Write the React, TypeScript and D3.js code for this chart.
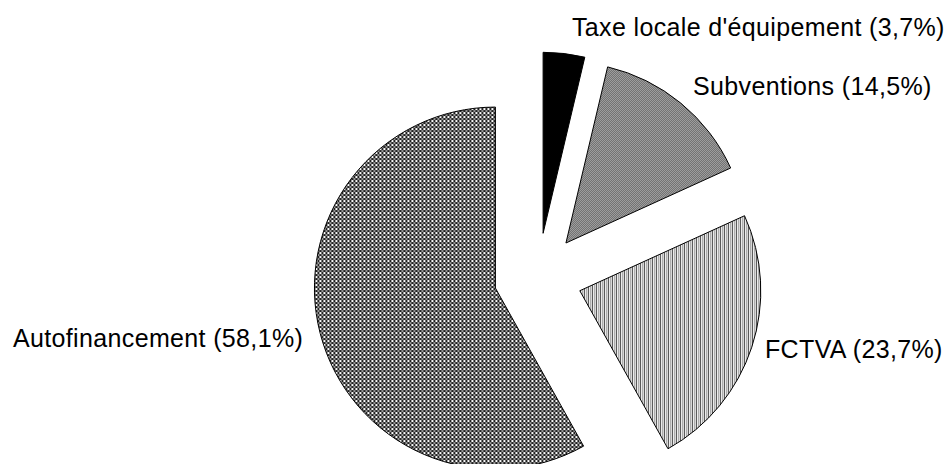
import React from "react";
import * as d3 from "d3";

const categories = [
  "Taxe locale d'équipement",
  "Subventions",
  "FCTVA",
  "Autofinancement",
];
const values = [3.7, 14.5, 23.7, 58.1];
const valueLabels = ["3,7%", "14,5%", "23,7%", "58,1%"];

const W = 950;
const H = 464;
const CX = 538;
const CY = 277;
const R = 181;
const EXPLODE = 44;
const FONT = 25;

const fills = ["#000", "url(#pSub)", "url(#pFct)", "url(#pAuto)"];
// label layout: [x, baseline y]
const labelPos: [number, number][] = [
  [572, 36],
  [693, 95],
  [765, 358],
  [13, 347],
];

export default function App() {
  const pie = d3
    .pie<number>()
    .sort(null)
    .value((d) => d)
    .startAngle(0)
    .endAngle(2 * Math.PI);
  const arcs = pie(values);
  const arc = d3.arc<d3.PieArcDatum<number>>().innerRadius(0).outerRadius(R);

  return (
    <svg
      width={W}
      height={H}
      style={{ position: "absolute", left: 0, top: 0, background: "#fff" }}
    >
      <defs>
        <pattern id="pAuto" width={4} height={4} patternUnits="userSpaceOnUse">
          <rect width={4} height={4} fill="#1c1c1c" />
          <rect x={0} y={0} width={2} height={2} fill="#fff" />
          <rect x={2} y={2} width={2} height={2} fill="#9a9a9a" />
        </pattern>
        <pattern id="pSub" width={2} height={2} patternUnits="userSpaceOnUse">
          <rect width={2} height={2} fill="#a0a0a0" />
          <rect x={0} y={0} width={1} height={1} fill="#707070" />
          <rect x={1} y={1} width={1} height={1} fill="#707070" />
        </pattern>
        <pattern id="pFct" width={4} height={4} patternUnits="userSpaceOnUse">
          <rect width={4} height={4} fill="#fff" />
          <rect x={0} y={0} width={1} height={4} fill="#333" />
          <rect x={2} y={0} width={1} height={4} fill="#999" />
        </pattern>
      </defs>
      {arcs.map((a, i) => {
        const mid = (a.startAngle + a.endAngle) / 2;
        const dx = EXPLODE * Math.sin(mid);
        const dy = -EXPLODE * Math.cos(mid);
        return (
          <path
            key={categories[i]}
            d={arc(a) || ""}
            transform={`translate(${CX + dx},${CY + dy})`}
            fill={fills[i]}
            stroke="#000"
            strokeWidth={1}
          />
        );
      })}
      {categories.map((c, i) => (
        <text
          key={c}
          x={labelPos[i][0]}
          y={labelPos[i][1]}
          fontFamily="'Liberation Sans', Arial, sans-serif"
          fontSize={FONT}
          letterSpacing={0.35}
          fill="#000"
        >
          {`${c} (${valueLabels[i]})`}
        </text>
      ))}
    </svg>
  );
}
